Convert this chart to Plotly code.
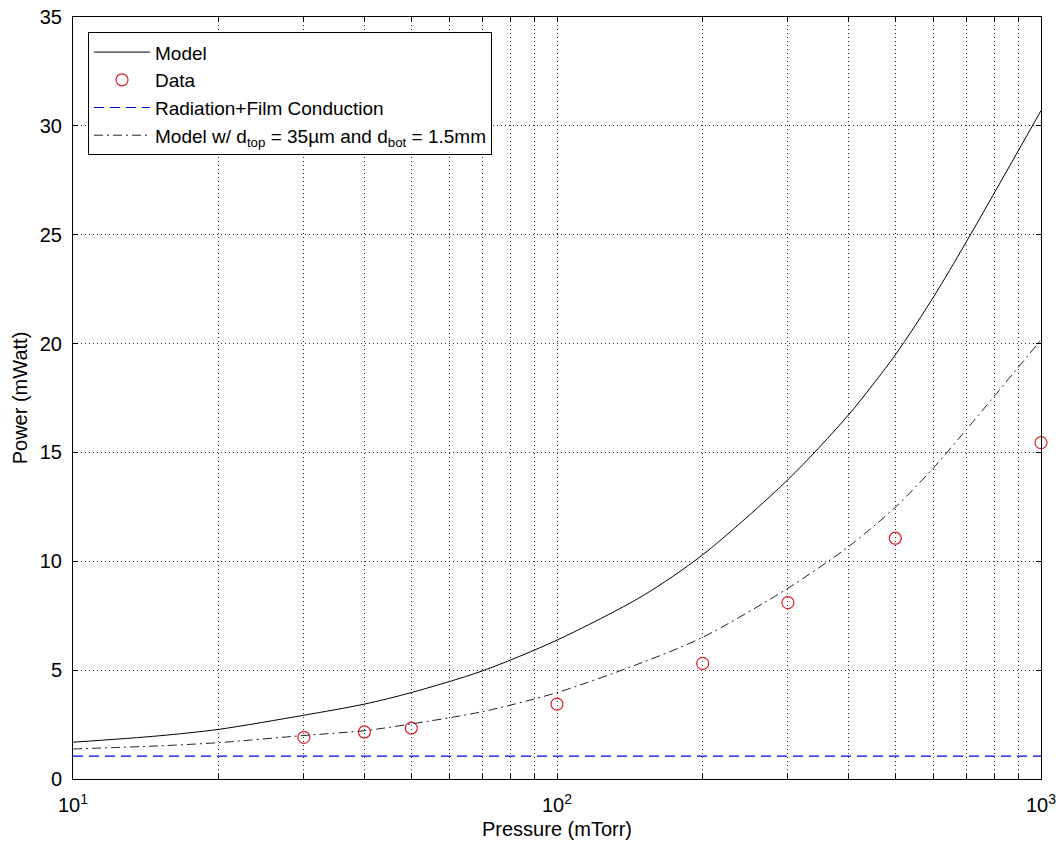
import plotly.graph_objects as go

# Curves
curve_p = [10, 15, 20, 30, 40, 50, 70, 100, 150, 200, 300, 400, 500, 600, 700, 1000]
model = [1.69, 1.98, 2.28, 2.93, 3.44, 3.97, 4.96, 6.38, 8.4, 10.3, 13.75, 16.72, 19.48, 22.15, 24.65, 30.7]
model_alt = [1.38, 1.52, 1.67, 2.0, 2.22, 2.53, 3.09, 3.97, 5.35, 6.51, 8.76, 10.67, 12.48, 14.3, 16.03, 20.17]
rad_p = [10, 1000]
rad = [1.05, 1.05]

# Measured data
data_p = [30, 40, 50, 100, 200, 300, 500, 1000]
data_w = [1.91, 2.16, 2.34, 3.44, 5.31, 8.1, 11.06, 15.45]

x_ticks = [10, 20, 30, 40, 50, 60, 70, 80, 90, 100, 200, 300, 400, 500, 600, 700, 800, 900, 1000]
x_ticktext = ["10<sup>1</sup>"] + [""] * 8 + ["10<sup>2</sup>"] + [""] * 8 + ["10<sup>3</sup>"]
y_ticks = [0, 5, 10, 15, 20, 25, 30, 35]

FONT = "Arial, Liberation Sans, sans-serif"

fig = go.Figure()
fig.add_trace(go.Scatter(x=curve_p, y=model, mode="lines", name="Model",
                         line=dict(color="black", width=1, shape="spline", smoothing=0.8)))
fig.add_trace(go.Scatter(x=data_p, y=data_w, mode="markers", name="Data", cliponaxis=False,
                         marker=dict(symbol="circle-open", size=12, color="#e0202a",
                                     line=dict(width=1.2, color="#e0202a"))))
fig.add_trace(go.Scatter(x=rad_p, y=rad, mode="lines", name="Radiation+Film Conduction",
                         line=dict(color="#0000e0", width=1.2, dash="10px,6px")))
fig.add_trace(go.Scatter(x=curve_p, y=model_alt, mode="lines",
                         name="Model w/ d<sub>top</sub> = 35µm and d<sub>bot</sub> = 1.5mm",
                         line=dict(color="#222222", width=1, dash="9px,4px,2px,4px",
                                   shape="spline", smoothing=0.8)))

axis_common = dict(showline=True, linecolor="black", linewidth=1, mirror="ticks",
                   ticks="inside", ticklen=5, tickcolor="black",
                   showgrid=True, gridcolor="#333333", gridwidth=1, griddash="1px,3px",
                   zeroline=False, ticklabeloverflow="allow",
                   tickfont=dict(family=FONT, size=20, color="black"))

fig.update_xaxes(type="log", range=[1, 3], tickvals=x_ticks, ticktext=x_ticktext,
                 ticklabelstandoff=8,
                 title=dict(text="Pressure (mTorr)", font=dict(family=FONT, size=20, color="black"),
                            standoff=6),
                 **axis_common)
fig.update_yaxes(range=[0, 35], tickvals=y_ticks, ticklabelstandoff=6,
                 title=dict(text="Power (mWatt)", font=dict(family=FONT, size=20, color="black"),
                            standoff=6),
                 **axis_common)

fig.update_layout(
    width=1060, height=846,
    margin=dict(l=73, r=19, t=17, b=67, autoexpand=False),
    paper_bgcolor="white", plot_bgcolor="white",
    font=dict(family=FONT, size=20, color="black"),
    showlegend=True,
    legend=dict(x=0.0155, y=0.980, xanchor="left", yanchor="top",
                bgcolor="white", bordercolor="black", borderwidth=1,
                font=dict(family=FONT, size=19, color="black"),
                tracegroupgap=0, itemwidth=56),
)

fig.write_html("out.html", config={"displayModeBar": False},
               post_script="document.body.style.margin='0px';document.body.style.overflow='hidden';")
